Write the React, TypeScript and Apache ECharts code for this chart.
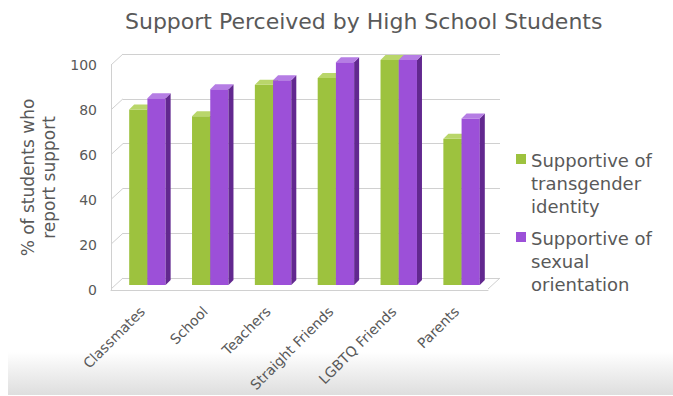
import React, { useEffect, useRef } from "react";
import * as echarts from "echarts";

const categories = ["Classmates", "School", "Teachers", "Straight Friends", "LGBTQ Friends", "Parents"];
const transgenderValues = [78, 75, 89, 92, 100, 65];
const sexualOrientationValues = [83, 87, 91, 99, 100, 74];
const seriesNames = ["Supportive of\ntransgender\nidentity", "Supportive of\nsexual\norientation"];
const yTicks = [0, 20, 40, 60, 80, 100];
const titleText = "Support Perceived by High School Students";
const yAxisName = "% of students who\nreport support";

const FONT = "DejaVu Sans";
const TEXT = "#595959";
const GRID_LINE = "#d0d0d0";
const COLORS = [
  { front: "#9dc23e", side: "#6f8f23", top: "#b9d66a" },
  { front: "#9c50d8", side: "#62288f", top: "#b57de4" },
];

const DEPTH = 5;
const WALL_DX = 12;
const WALL_DY = 11;

function barRenderer(si: number) {
  return (params: any, api: any) => {
    const ci = api.value(0);
    const v = api.value(1);
    const base = api.coord([ci, 0]);
    const top = api.coord([ci, v]);
    const band = api.size([1, 0])[0];
    const bw = band * 0.29;
    const x0 = base[0] + (si === 0 ? -bw : 0);
    const x1 = x0 + bw;
    const c = COLORS[si];
    return {
      type: "group",
      children: [
        {
          type: "rect",
          shape: { x: x0, y: top[1], width: bw, height: base[1] - top[1] },
          style: { fill: c.front },
        },
        {
          type: "polygon",
          shape: { points: [[x1, top[1]], [x1 + DEPTH, top[1] - DEPTH], [x1 + DEPTH, base[1] - DEPTH], [x1, base[1]]] },
          style: { fill: c.side },
        },
        {
          type: "polygon",
          shape: { points: [[x0, top[1]], [x0 + DEPTH, top[1] - DEPTH], [x1 + DEPTH, top[1] - DEPTH], [x1, top[1]]] },
          style: { fill: c.top },
        },
      ],
    };
  };
}

export default function App() {
  const ref = useRef<HTMLDivElement>(null);
  useEffect(() => {
    if (!ref.current) return;
    const chart = echarts.init(ref.current, null, { renderer: "svg" });
    const gridBack = { left: 123, top: 54, width: 377, height: 224 };
    const gridFront = { left: 111, top: 65, width: 377, height: 225 };
    const gridBar = { left: 116, top: 60, width: 377, height: 225 };
    const hiddenCat = (gi: number) => ({
      type: "category",
      gridIndex: gi,
      data: categories,
      show: false,
    });
    const hiddenVal = (gi: number) => ({
      type: "value",
      gridIndex: gi,
      min: 0,
      max: 100,
      interval: 20,
      show: false,
    });

    const legendItems: any[] = [];
    const legendFirstLine = [160, 238];
    seriesNames.forEach((name, i) => {
      legendItems.push({
        type: "rect",
        shape: { x: 516, y: legendFirstLine[i] - 6, width: 10, height: 10 },
        style: { fill: COLORS[i].front },
      });
      legendItems.push({
        type: "text",
        x: 531,
        y: legendFirstLine[i] - 11,
        style: {
          text: name,
          font: `18px "${FONT}"`,
          fill: TEXT,
          lineHeight: 23,
        },
      });
    });

    chart.setOption({
      animation: false,
      title: {
        text: titleText,
        left: 120,
        top: 5,
        textStyle: { fontFamily: FONT, fontSize: 22, fontWeight: "normal", color: TEXT },
      },
      graphic: [
        {
          type: "rect",
          z: -10,
          shape: { x: 8, y: 352, width: 665, height: 43 },
          style: {
            fill: new echarts.graphic.LinearGradient(0, 0, 0, 1, [
              { offset: 0, color: "#ffffff" },
              { offset: 0.35, color: "#f3f3f3" },
              { offset: 1, color: "#dedede" },
            ]),
          },
        },
        ...legendItems,
      ],
      grid: [gridBack, gridFront, gridBar],
      xAxis: [
        hiddenCat(0),
        {
          type: "category",
          gridIndex: 1,
          data: categories,
          axisLine: { show: true, lineStyle: { color: GRID_LINE } },
          axisTick: { show: false },
          axisLabel: {
            rotate: 45,
            margin: 19,
            fontFamily: FONT,
            fontSize: 14,
            color: TEXT,
            interval: 0,
          },
        },
        hiddenCat(2),
      ],
      yAxis: [
        {
          type: "value",
          gridIndex: 0,
          min: 0,
          max: 100,
          interval: 20,
          axisLine: { show: false },
          axisTick: { show: false },
          axisLabel: { show: false },
          splitLine: { show: true, lineStyle: { color: GRID_LINE } },
        },
        {
          type: "value",
          gridIndex: 1,
          min: 0,
          max: 100,
          interval: 20,
          axisLine: { show: true, lineStyle: { color: GRID_LINE } },
          axisTick: { show: false },
          splitLine: { show: false },
          axisLabel: { margin: 14, fontFamily: FONT, fontSize: 14, color: TEXT },
          name: yAxisName,
          nameLocation: "middle",
          nameGap: 52,
          nameTextStyle: { fontFamily: FONT, fontSize: 17, color: TEXT, lineHeight: 21 },
        },
        hiddenVal(2),
      ],
      series: [
        {
          type: "custom",
          name: "wall",
          xAxisIndex: 0,
          yAxisIndex: 0,
          data: yTicks.map((t) => [0, t]),
          renderItem: (params: any, api: any) => {
            const cs = params.coordSys;
            const p = api.coord([0, api.value(1)]);
            const children: any[] = [
              {
                type: "line",
                shape: { x1: cs.x, y1: p[1], x2: cs.x - WALL_DX, y2: p[1] + WALL_DY },
                style: { stroke: GRID_LINE, lineWidth: 1 },
              },
            ];
            if (api.value(1) === 0) {
              children.push({
                type: "line",
                shape: { x1: cs.x + cs.width, y1: p[1], x2: cs.x + cs.width - WALL_DX, y2: p[1] + WALL_DY },
                style: { stroke: GRID_LINE, lineWidth: 1 },
              });
            }
            return { type: "group", children };
          },
          silent: true,
        },
        {
          type: "custom",
          name: seriesNames[0],
          xAxisIndex: 2,
          yAxisIndex: 2,
          data: transgenderValues.map((v, i) => [i, v]),
          renderItem: barRenderer(0),
          itemStyle: { color: COLORS[0].front },
        },
        {
          type: "custom",
          name: seriesNames[1],
          xAxisIndex: 2,
          yAxisIndex: 2,
          data: sexualOrientationValues.map((v, i) => [i, v]),
          renderItem: barRenderer(1),
          itemStyle: { color: COLORS[1].front },
        },
      ],
    });
    return () => chart.dispose();
  }, []);
  return (
    <div
      ref={ref}
      style={{ position: "fixed", left: 0, top: 0, width: 673, height: 396, background: "#ffffff" }}
    />
  );
}
